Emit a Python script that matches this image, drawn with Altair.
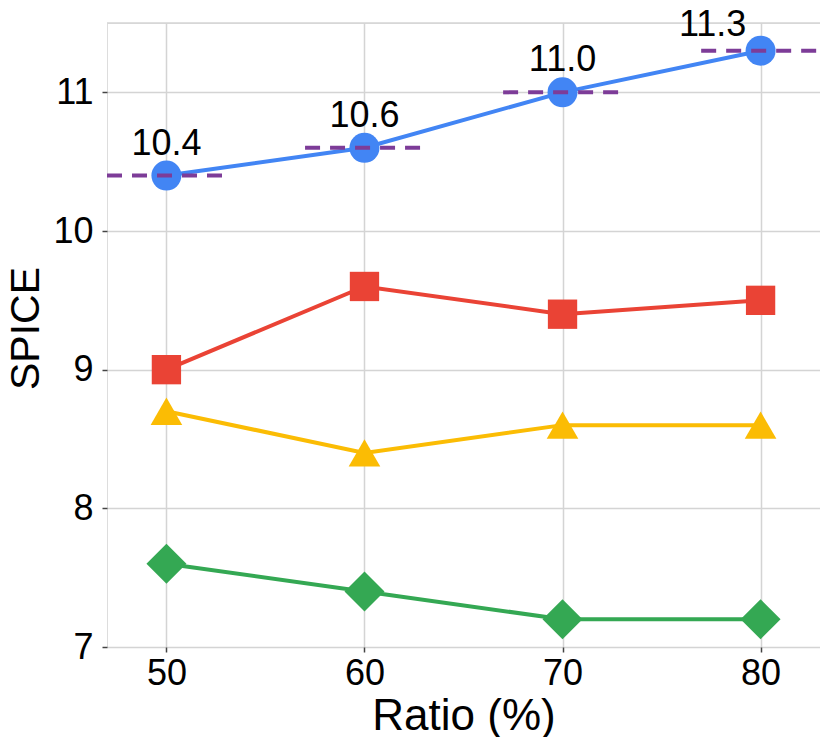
import altair as alt
import pandas as pd

ratios = [50, 60, 70, 80]
series_names = ["A", "B", "C", "D"]
blue_vals = [10.4, 10.6, 11.0, 11.3]
red_vals = [9.0, 9.6, 9.4, 9.5]
yellow_vals = [8.7, 8.4, 8.6, 8.6]
green_vals = [7.6, 7.4, 7.2, 7.2]
ref_vals = [10.4, 10.6, 11.0, 11.3]
label_texts = ["10.4", "10.6", "11.0", "11.3"]
x_ticks = [50, 60, 70, 80]
y_ticks = [7, 8, 9, 10, 11]

colors = ["#4285F4", "#EA4335", "#FBBC04", "#34A853"]
shapes = ["circle", "square", "triangle-up", "diamond"]
sizes = [900, 860, 1000, 1600]

rows = []
for name, vals in zip(series_names, [blue_vals, red_vals, yellow_vals, green_vals]):
    for r, v in zip(ratios, vals):
        rows.append({"series": name, "ratio": r, "value": v})
df = pd.DataFrame(rows)
ref_df = pd.DataFrame({"ratio": ratios, "value": ref_vals, "label": label_texts})
top_df = pd.DataFrame({"y": [11.5]})

FONT = "Liberation Sans"

xscale = alt.Scale(domain=[47, 83], nice=False, zero=False)
yscale = alt.Scale(domain=[7, 11.5], nice=False, zero=False)

xenc = alt.X("ratio:Q", scale=xscale, axis=alt.Axis(
    values=x_ticks, format="d", title="Ratio (%)", grid=True, gridColor="#d4d4d4", gridWidth=1.5,
    domain=False, tickColor="#444", tickSize=5, tickWidth=1.5, labelPadding=4,
    labelFontSize=36, labelFont=FONT, labelColor="black",
    titleFontSize=44, titleFont=FONT, titleFontWeight="normal", titleColor="black",
    titleY=82, titleBaseline="alphabetic"))
yenc = alt.Y("value:Q", scale=yscale, axis=alt.Axis(
    values=y_ticks, format="d", title="SPICE", grid=True, gridColor="#d4d4d4", gridWidth=1.5,
    domain=False, tickColor="#444", tickSize=5, tickWidth=1.5, labelPadding=9,
    labelFontSize=36, labelFont=FONT, labelColor="black",
    titleFontSize=41, titleFont=FONT, titleFontWeight="normal", titleColor="black",
    titleX=-81, titleY=305, titleAngle=-90, titleBaseline="middle", titleAlign="center"))

color_enc = alt.Color("series:N", scale=alt.Scale(domain=series_names, range=colors), legend=None)

top_rule = alt.Chart(top_df).mark_rule(color="#d4d4d4", strokeWidth=1.5).encode(
    y=alt.Y("y:Q", scale=yscale))

lines = alt.Chart(df).mark_line(strokeWidth=4).encode(
    x=xenc, y=yenc, color=color_enc, detail="series:N")

point_layers = []
for name, col, shp, sz in zip(series_names, colors, shapes, sizes):
    point_layers.append(
        alt.Chart(df).transform_filter(alt.datum.series == name).mark_point(
            filled=True, opacity=1, color=col, shape=shp, size=sz, strokeWidth=0).encode(
            x=alt.X("ratio:Q", scale=xscale), y=alt.Y("value:Q", scale=yscale)))

dashes = alt.Chart(ref_df).transform_calculate(
    x1="datum.ratio - 3", x2="datum.ratio + 3").mark_rule(
    color="#7D3C98", strokeWidth=4, strokeDash=[15, 10]).encode(
    x=alt.X("x1:Q", scale=xscale), x2="x2:Q", y=alt.Y("value:Q", scale=yscale))

labels_main = alt.Chart(ref_df).transform_filter("datum.ratio < 80").mark_text(
    fontSize=36, font=FONT, color="black", baseline="alphabetic", align="center", dy=-21).encode(
    x=alt.X("ratio:Q", scale=xscale), y=alt.Y("value:Q", scale=yscale), text="label:N")

labels_last = alt.Chart(ref_df).transform_filter("datum.ratio == 80").mark_text(
    fontSize=36, font=FONT, color="black", baseline="alphabetic", align="center", dx=-48, dy=-15).encode(
    x=alt.X("ratio:Q", scale=xscale), y=alt.Y("value:Q", scale=yscale), text="label:N")

chart = alt.layer(top_rule, lines, *point_layers, dashes, labels_main, labels_last).properties(
    width=713, height=624,
    autosize=alt.AutoSizeParams(type="none"),
    padding={"left": 99, "top": 15, "right": 0, "bottom": 90},
).configure_view(stroke=None).configure(background="white")

chart.save("out.html", embed_options={"renderer": "svg", "actions": False})
